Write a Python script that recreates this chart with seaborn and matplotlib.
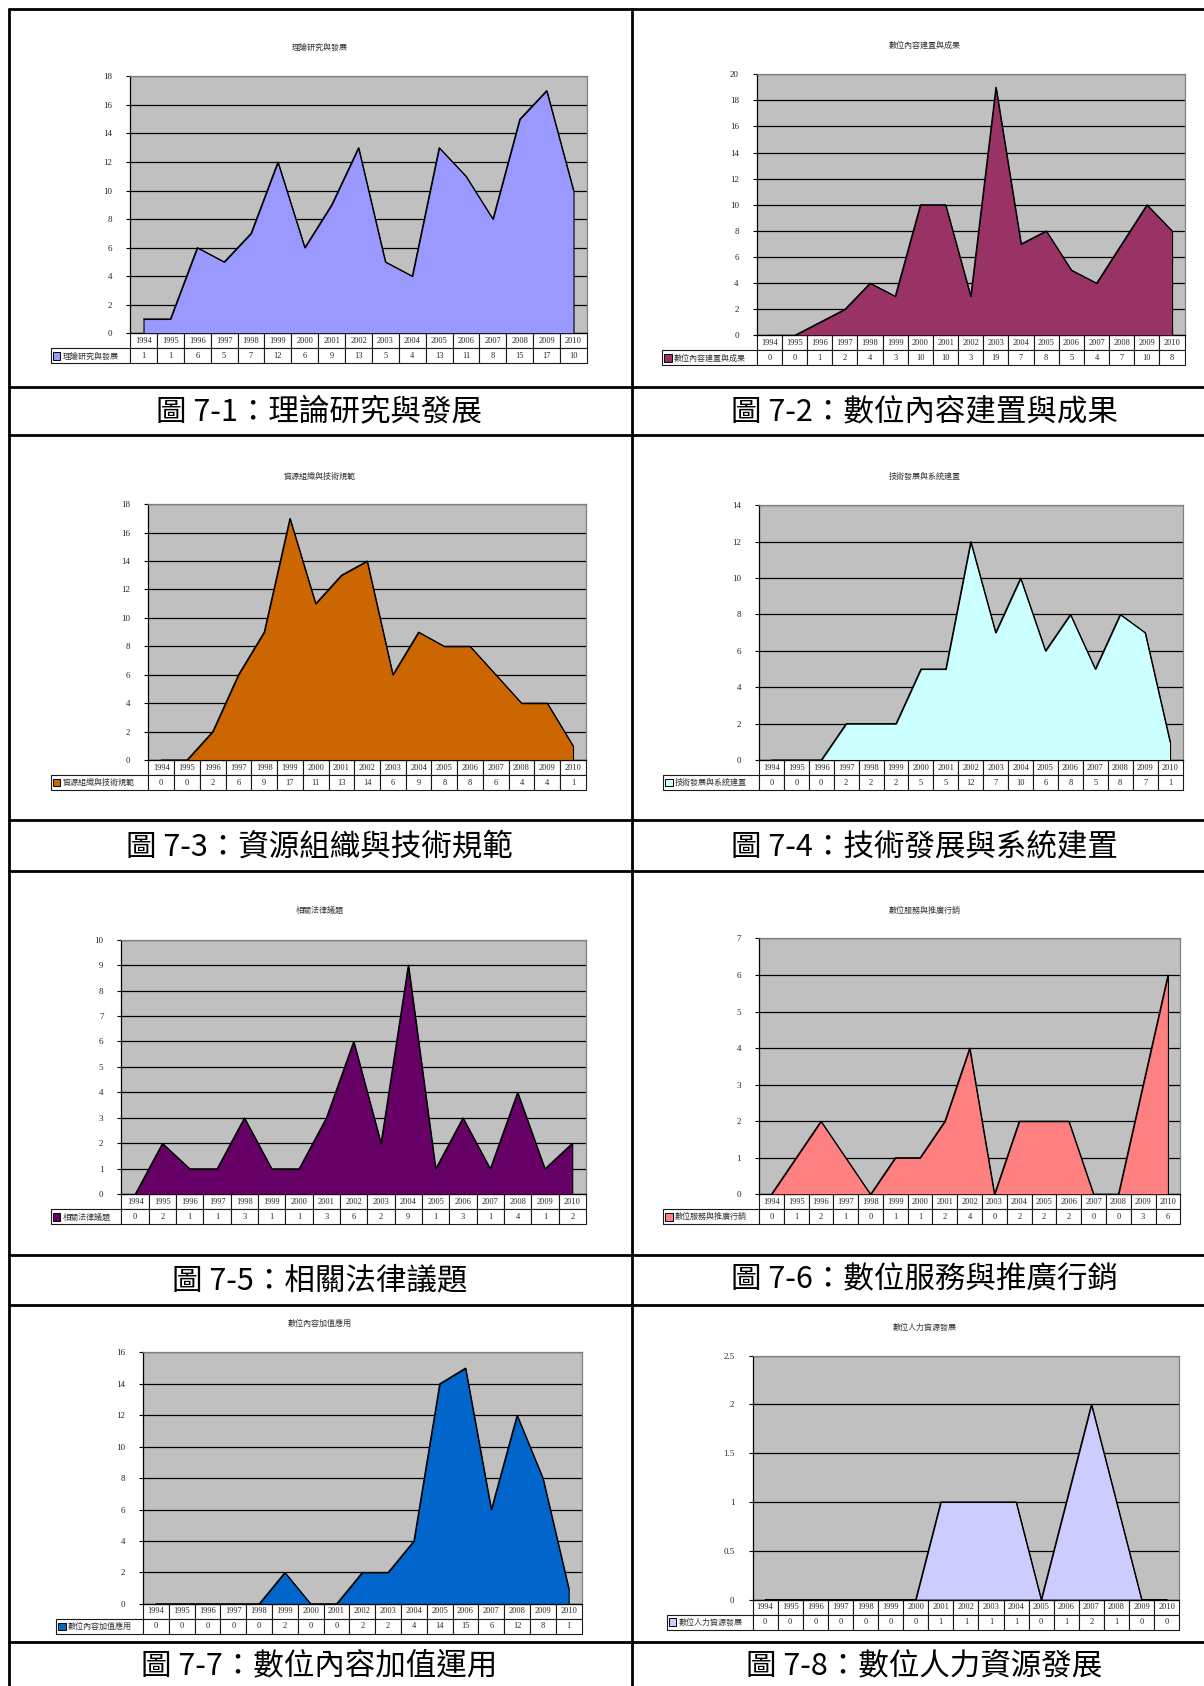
import numpy as np
import pandas as pd
import matplotlib
matplotlib.use("Agg")
import matplotlib.pyplot as plt
import seaborn as sns
from matplotlib.lines import Line2D
from matplotlib.patches import Rectangle


# -----------------------------
# Data
# -----------------------------

years = list(range(1994, 2011))

theory = [1, 1, 6, 5, 7, 12, 6, 9, 13, 5, 4, 13, 11, 8, 15, 17, 10]
content = [0, 0, 1, 2, 4, 3, 10, 10, 3, 19, 7, 8, 5, 4, 7, 10, 8]
organization = [0, 0, 2, 6, 9, 17, 11, 13, 14, 6, 9, 8, 8, 6, 4, 4, 1]
technology = [0, 0, 0, 2, 2, 2, 5, 5, 12, 7, 10, 6, 8, 5, 8, 7, 1]
legal = [0, 2, 1, 1, 3, 1, 1, 3, 6, 2, 9, 1, 3, 1, 4, 1, 2]
service = [0, 1, 2, 1, 0, 1, 1, 2, 4, 0, 2, 2, 2, 0, 0, 3, 6]
value_added = [0, 0, 0, 0, 0, 2, 0, 0, 2, 2, 4, 14, 15, 6, 12, 8, 1]
manpower = [0, 0, 0, 0, 0, 0, 0, 1, 1, 1, 1, 0, 1, 2, 1, 0, 0]

series_names = [
    "理論研究與發展",
    "數位內容建置與成果",
    "資源組織與技術規範",
    "技術發展與系統建置",
    "相關法律議題",
    "數位服務與推廣行銷",
    "數位內容加值應用",
    "數位人力資源發展",
]

captions = [
    "圖 7-1：理論研究與發展",
    "圖 7-2：數位內容建置與成果",
    "圖 7-3：資源組織與技術規範",
    "圖 7-4：技術發展與系統建置",
    "圖 7-5：相關法律議題",
    "圖 7-6：數位服務與推廣行銷",
    "圖 7-7：數位內容加值運用",
    "圖 7-8：數位人力資源發展",
]

series_values = [theory, content, organization, technology,
                 legal, service, value_added, manpower]


# -----------------------------
# Style / layout
# -----------------------------

sns.set_theme(style="white")
plt.rcParams["font.family"] = ["Noto Sans CJK TC", "DejaVu Sans"]

SERIF = ["Liberation Serif", "Noto Sans CJK TC"]
CJK = ["Noto Sans CJK TC", "DejaVu Sans"]

colors = ["#9999FF", "#993366", "#CC6600", "#CCFFFF",
          "#660066", "#FF8080", "#0066CC", "#CCCCFF"]
y_max = [18, 20, 18, 14, 10, 7, 16, 2.5]
y_step = [2, 2, 2, 2, 1, 1, 2, 0.5]

# layout in 1120-wide reference units: plot x0, x1, y0, y1, legend x0
rects = [
    (121, 546, 71, 310, 47),
    (704, 1102, 69, 312, 616),
    (138, 545, 469, 707, 47),
    (706, 1100, 470, 707, 617),
    (113, 545, 874, 1111, 47),
    (706, 1098, 873, 1111, 617),
    (133, 541, 1258, 1492, 52),
    (700, 1097, 1261, 1488, 620),
]
title_pos = [(297, 44), (860, 42), (297, 443), (860, 443),
             (297, 847), (860, 847), (297, 1231), (860, 1235)]
caption_pos = [(297, 383), (860, 383), (297, 788), (860, 788),
               (297, 1191), (860, 1191), (297, 1550), (860, 1550)]

W, H = 1204, 1686
s = W / 1120


def fx(x):
    return x * s / W


def fy(y):
    return 1 - y * s / H


fig = plt.figure(figsize=(W / 100, H / 100), dpi=100)
fig.patch.set_facecolor("white")

# table frame of the document
for y in [8, 360, 405, 763, 810, 1167, 1214, 1527]:
    fig.add_artist(Line2D([fx(8), 1.0], [fy(y), fy(y)], color="black", lw=2))
for x in [8, 588]:
    fig.add_artist(Line2D([fx(x), fx(x)], [fy(8), 0.0], color="black", lw=2))


# -----------------------------
# Panels
# -----------------------------

row_h = 14

for i in range(8):
    vals = series_values[i]
    x0, x1, y0, y1, lx = rects[i]
    pw = x1 - x0
    ph = y1 - y0

    ax = fig.add_axes([fx(x0), fy(y1), fx(x1) - fx(x0), fy(y0) - fy(y1)])
    ax.set_facecolor("#C0C0C0")

    df = pd.DataFrame({"idx": np.arange(len(years)), "count": vals})

    ax.fill_between(df["idx"], df["count"], 0, facecolor=colors[i],
                    edgecolor="black", linewidth=0.8, zorder=3)
    sns.lineplot(data=df, x="idx", y="count", color="black",
                 linewidth=0.8, ax=ax, zorder=4)

    ax.set_xlim(-0.5, len(years) - 0.5)
    ax.set_ylim(0, y_max[i])
    ticks = np.arange(0, y_max[i] + y_step[i] / 2, y_step[i])
    ax.set_yticks(ticks)
    ax.set_yticklabels([f"{t:g}" for t in ticks], fontfamily=SERIF,
                       fontsize=6.5)
    ax.set_xticks([])
    ax.set_xlabel("")
    ax.set_ylabel("")
    ax.yaxis.grid(True, color="black", linewidth=0.9)
    ax.set_axisbelow(True)
    ax.tick_params(axis="y", left=True, length=3, width=0.8, pad=10,
                   color="black")

    ax.spines["left"].set_color("black")
    ax.spines["bottom"].set_color("black")
    ax.spines["top"].set_color("#808080")
    ax.spines["right"].set_color("#808080")
    for sp in ax.spines.values():
        sp.set_linewidth(0.9)

    # data table under the chart
    cell_text = [[""] + [str(y) for y in years],
                 [""] + [str(v) for v in vals]]
    bbox = [(lx - x0) / pw, -2 * row_h / ph, (x1 - lx) / pw, 2 * row_h / ph]
    tbl = ax.table(cellText=cell_text, cellLoc="center", bbox=bbox)
    tbl.auto_set_font_size(False)
    tbl.set_fontsize(6)
    for (r, c), cell in tbl.get_celld().items():
        cell.set_width((x0 - lx) if c == 0 else pw / len(years))
        cell.set_linewidth(0.8)
        cell.set_facecolor("white")
        cell.get_text().set_fontfamily(SERIF)
        if r == 0 and c == 0:
            cell.visible_edges = ""

    # legend key inside the table
    ax.add_patch(Rectangle(((lx + 2 - x0) / pw, (-1.5 * row_h - 3.5) / ph),
                           7 / pw, 7 / ph, transform=ax.transAxes,
                           facecolor=colors[i], edgecolor="black",
                           linewidth=0.7, clip_on=False, zorder=5))
    ax.text((lx + 11 - x0) / pw, -1.5 * row_h / ph, series_names[i],
            transform=ax.transAxes, ha="left", va="center",
            fontsize=5.8, color="#333333", fontfamily=CJK)

    # chart title
    tx, ty = title_pos[i]
    fig.text(fx(tx), fy(ty), series_names[i], ha="center", va="center",
             fontsize=5.8, color="#333333", fontfamily=CJK)

    # figure caption
    cx, cy = caption_pos[i]
    fig.text(fx(cx), fy(cy), captions[i], ha="center", va="center",
             fontsize=22, color="black", fontfamily=CJK)


plt.savefig("out.png", dpi=100)
